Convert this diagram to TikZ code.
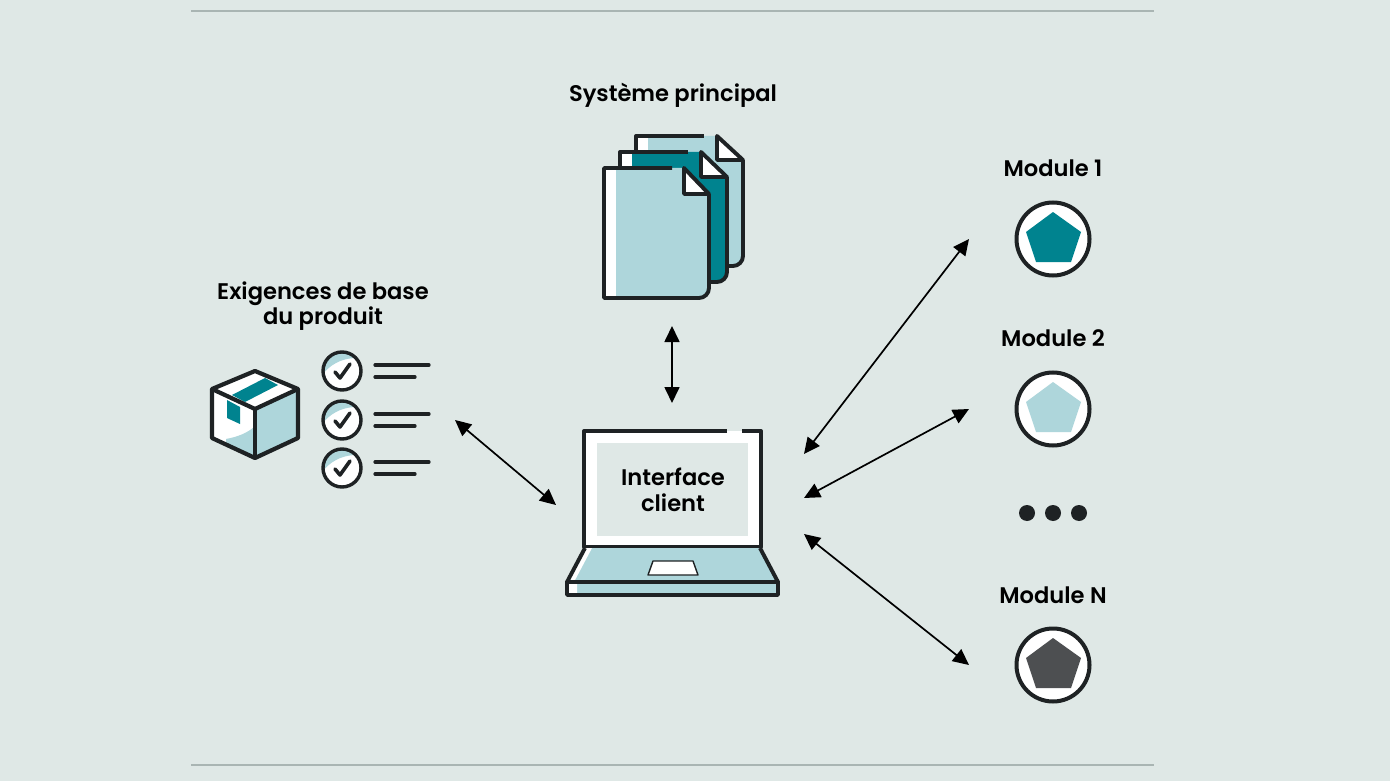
\documentclass[tikz,border=0pt]{standalone}
\usepackage{fontspec}
\setmainfont{Poppins}[BoldFont={Poppins SemiBold}]
\usetikzlibrary{arrows.meta}
\definecolor{bg}{HTML}{DFE8E6}
\definecolor{rulec}{HTML}{A9B5B3}
\definecolor{lightb}{HTML}{AED6DB}
\definecolor{teal}{HTML}{00838F}
\definecolor{ink}{HTML}{1E2224}
\definecolor{dgrey}{HTML}{4D4F51}
\tikzset{
  lab/.style={font=\bfseries\fontsize{22.6}{26}\selectfont,text=black,align=center,inner sep=0pt},
  ol/.style={draw=ink,line width=3.9pt,line join=round},
  boxl/.style={draw=ink,line width=4.2pt,line join=round},
  ln/.style={draw=ink,line width=3.2pt,line cap=round},
  link/.style={draw=black,line width=1.7pt,{Triangle[length=16pt,width=15pt]}-{Triangle[length=16pt,width=15pt]}},
  modc/.style={draw=ink,line width=4pt,fill=white},
  chk/.style={draw=ink,line width=3.4pt},
  tick/.style={draw=ink,line width=3.6pt,line cap=round,line join=round},
  dotn/.style={circle,fill=ink,minimum size=16pt,inner sep=0pt}
}
\begin{document}
\begin{tikzpicture}[x=1pt,y=-1pt]
\useasboundingbox (0,0) rectangle (1390,781);
\fill[bg] (0,0) rectangle (1390,781);
% rules
\coordinate (r1a) at (191,11); \coordinate (r1b) at (1154,11);
\coordinate (r2a) at (191,765); \coordinate (r2b) at (1154,765);
\draw[rulec,line width=1.4pt] (r1a) -- (r1b);
\draw[rulec,line width=1.4pt] (r2a) -- (r2b);
% labels
\node[lab] (sys) at (673,95) {Système principal};
\node[lab] (exi) at (323,306) {Exigences de base\\[-0.5pt]du produit};
\node[lab] (m1l) at (1053,168) {Module 1};
\node[lab] (m2l) at (1053,338) {Module 2};
\node[lab] (mnl) at (1053,595) {Module N};
% documents: back
\fill[lightb] (636,136) -- (717,136) -- (743,162) -- (743,256) arc[start angle=0,end angle=90,radius=10] -- (636,266) -- cycle;
\fill[white] (636,136) rectangle (648,152);
\draw[ol] (636,152) -- (636,136) -- (704,136);
\draw[ol,fill=white] (717,136) -- (717,160) -- (743,160) -- cycle;
\draw[ol] (743,160) -- (743,256) arc[start angle=0,end angle=90,radius=10] -- (726,266);
% documents: middle
\fill[teal] (620,152) -- (701,152) -- (727,178) -- (727,272) arc[start angle=0,end angle=90,radius=10] -- (620,282) -- cycle;
\fill[white] (620,152) rectangle (632,168);
\draw[ol] (620,168) -- (620,152) -- (688,152);
\draw[ol,fill=white] (701,152) -- (701,177) -- (727,177) -- cycle;
\draw[ol] (727,177) -- (727,272) arc[start angle=0,end angle=90,radius=10] -- (710,282);
% documents: front
\fill[lightb] (604,168) -- (684,168) -- (709,194) -- (709,288) arc[start angle=0,end angle=90,radius=10] -- (604,298) -- cycle;
\fill[white] (604,168) rectangle (616,298);
\draw[ol] (672,168) -- (604,168) -- (604,298) -- (699,298) arc[start angle=90,end angle=0,radius=10] -- (709,194);
\draw[ol,fill=white] (684,168) -- (684,194) -- (709,194) -- cycle;
% box
\fill[white] (255,371) -- (298,389) -- (255,409) -- (212,389) -- cycle;
\fill[teal] (265,378) -- (278,385) -- (245,402) -- (232,395) -- cycle;
\fill[white] (212,389) -- (255,409) -- (255,458) -- (212,438) -- cycle;
\fill[lightb] (255,426) .. controls (248,433) and (237,437) .. (226,439) -- (226,444.5) -- (255,458) -- cycle;
\fill[lightb] (255,409) -- (298,389) -- (298,438) -- (255,458) -- cycle;
\fill[teal] (227,400) -- (240,407) -- (240,424) -- (227,418) -- cycle;
\draw[boxl] (255,371) -- (298,389) -- (298,438) -- (255,458) -- (212,438) -- (212,389) -- cycle;
\draw[boxl] (212,389) -- (255,409) -- (298,389);
\draw[boxl] (255,409) -- (255,458);
% checklist
\foreach \n/\y in {a/371,b/420,c/468}{
  \fill[white] (342,\y) circle[radius=19];
  \begin{scope}
    \clip (342,\y) circle[radius=19];
    \fill[lightb] (322,\y+4) .. controls (330,\y-6) and (340,\y-12) .. (354,\y-13) -- (354,\y-22) -- (322,\y-22) -- cycle;
  \end{scope}
  \node[chk,circle,minimum size=38pt,inner sep=0pt] (chk\n) at (342,\y) {};
  \draw[tick] (335,\y+1) -- (340,\y+7) -- (350,\y-7);
  \coordinate (la\n) at (375,\y-6); \coordinate (lb\n) at (429,\y-6);
  \coordinate (lc\n) at (375,\y+6); \coordinate (ld\n) at (415,\y+6);
  \draw[ln] (la\n) -- (lb\n);
  \draw[ln] (lc\n) -- (ld\n);
}
% laptop
\fill[white] (584,431) rectangle (761,547);
\fill[bg] (597,443) rectangle (748,536);
\draw[ol] (727,431) -- (584,431) -- (584,547) -- (761,547) -- (761,431) -- (742,431);
\fill[lightb] (585,548) -- (760,548) -- (778,582) -- (778,595) -- (567,595) -- (567,582) -- cycle;
\fill[white] (585,548) -- (592,548) -- (574,582) -- (577,582) -- (577,595) -- (567,595) -- (567,582) -- cycle;
\draw[ol] (585,548) -- (567,582) -- (567,595) -- (778,595) -- (778,582) -- (760,548);
\draw[ol] (567,582) -- (778,582);
\draw[fill=white,draw=ink,line width=1.4pt,line join=round] (653,561) -- (693,561) -- (698,575) -- (648,575) -- cycle;
\node[lab] (iface) at (673,490) {Interface\\[-0.5pt]client};
% modules
\foreach \n/\y/\c in {a/239/teal,b/409/lightb,n/665/dgrey}{
  \node[modc,circle,minimum size=73pt,inner sep=0pt] (mod\n) at (1053,\y) {};
  \fill[\c] (1053,\y-27) -- (1081,\y-7) -- (1071,\y+23) -- (1036,\y+23) -- (1026,\y-7) -- cycle;
}
\node[dotn] (d1) at (1027,513) {};
\node[dotn] (d2) at (1053,513) {};
\node[dotn] (d3) at (1079,513) {};
% connectors
\coordinate (sa) at (672,326); \coordinate (sb) at (672,403);
\coordinate (ea) at (455,420); \coordinate (eb) at (556,505);
\coordinate (p1) at (969,239); \coordinate (q1) at (804,454);
\coordinate (p2) at (969,409); \coordinate (q2) at (804,498);
\coordinate (p3) at (969,665); \coordinate (q3) at (804,534);
\draw[link] (sa) -- (sb);
\draw[link] (ea) -- (eb);
\draw[link] (q1) -- (p1);
\draw[link] (q2) -- (p2);
\draw[link] (q3) -- (p3);
\end{tikzpicture}
\end{document}
